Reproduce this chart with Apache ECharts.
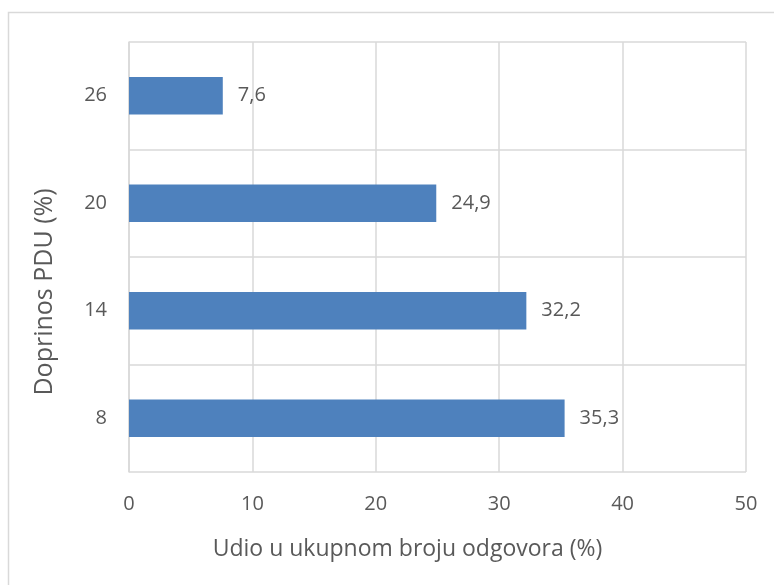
<!DOCTYPE html>
<html>
<head>
<meta charset="utf-8">
<script src="https://cdn.jsdelivr.net/npm/echarts@6/dist/echarts.min.js"></script>
<style>
  html, body { margin: 0; padding: 0; background: #fff; }
  #chart { width: 774px; height: 585px; }
</style>
</head>
<body>
<div id="chart"></div>
<script>
const categories = ['8', '14', '20', '26']
const shares = [35.3, 32.2, 24.9, 7.6]

const chart = echarts.init(document.getElementById('chart'))
const textColor = '#595959'
const lineColor = '#d9d9d9'
const font = 'Open Sans'

chart.setOption({
  animation: false,
  graphic: [{
    type: 'rect',
    shape: { x: 8.5, y: 12.5, width: 800, height: 600 },
    style: { fill: 'none', stroke: lineColor, lineWidth: 1.5 },
    silent: true
  }],
  grid: { left: 129, right: 28, top: 42, bottom: 113 },
  xAxis: {
    type: 'value',
    min: 0,
    max: 50,
    interval: 10,
    name: 'Udio u ukupnom broju odgovora (%)',
    nameLocation: 'middle',
    nameGap: 66,
    nameTextStyle: { color: textColor, fontSize: 23, fontFamily: font, padding: [0, 60, 0, 0] },
    axisLine: { show: false },
    axisTick: { show: false },
    axisLabel: { color: textColor, fontSize: 20, fontFamily: font, margin: 22 },
    splitLine: { lineStyle: { color: lineColor, width: 1.5 } }
  },
  yAxis: {
    type: 'category',
    data: categories,
    name: 'Doprinos PDU (%)',
    nameLocation: 'middle',
    nameGap: 72,
    nameTextStyle: { color: textColor, fontSize: 25, fontFamily: font, padding: [0, 70, 0, 0] },
    axisLine: { lineStyle: { color: lineColor, width: 1.5 } },
    axisTick: { show: false },
    axisLabel: { color: textColor, fontSize: 20, fontFamily: font, margin: 22 },
    splitLine: { show: true, lineStyle: { color: lineColor, width: 1.5 } }
  },
  series: [{
    type: 'bar',
    data: shares,
    barCategoryGap: '65%',
    itemStyle: { color: '#4e81bd' },
    label: {
      show: true,
      position: 'right',
      distance: 15,
      color: textColor,
      fontSize: 20,
      fontFamily: font,
      formatter: p => String(p.value).replace('.', ',')
    }
  }]
})
</script>
</body>
</html>
